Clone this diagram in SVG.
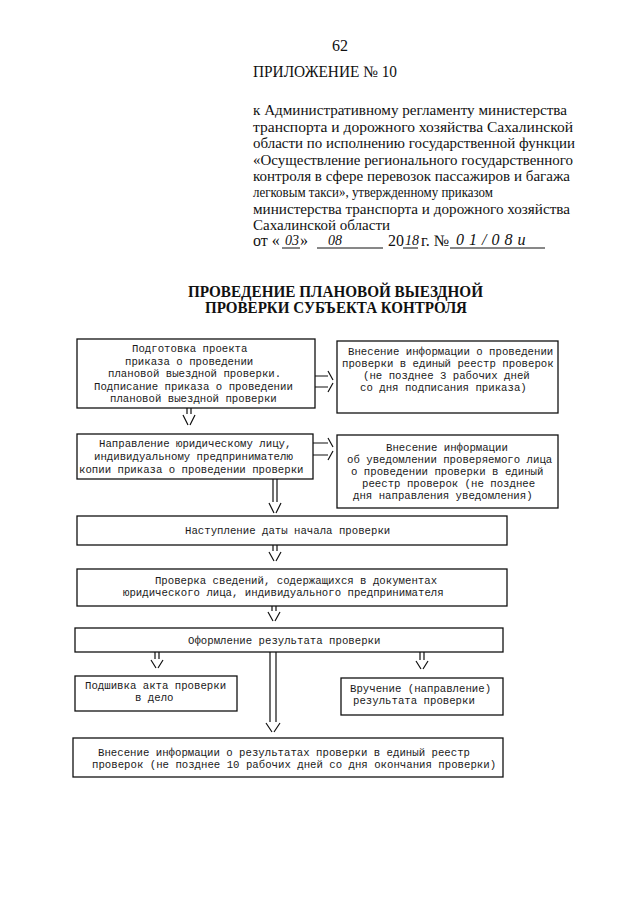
<svg xmlns="http://www.w3.org/2000/svg" width="640" height="905" viewBox="0 0 640 905">
<style>
.bg{fill:#fff}
.box{fill:#fff;stroke:#111;stroke-width:1.3}
.t{font-family:"Liberation Mono","DejaVu Sans Mono",monospace;font-size:10.7px;fill:#1a1a1a}
.s{font-family:"Liberation Serif","Times New Roman",serif;font-size:16px;fill:#111}
.p{font-family:"Liberation Serif","Times New Roman",serif;font-size:15.5px;fill:#111}
.b{font-family:"Liberation Serif","Times New Roman",serif;font-size:16px;font-weight:bold;fill:#111}
.h{font-family:"Liberation Serif","Times New Roman",serif;font-size:14px;font-style:italic;fill:#111}
.u{stroke:#111;stroke-width:1}
.c{fill:none;stroke:#111;stroke-width:1.2}
</style>
<rect class="bg" x="0" y="0" width="640" height="905"/>
<g id="header">
<text class="s" x="340" y="51" text-anchor="middle">62</text>
<text class="s" x="253" y="77" textLength="144" lengthAdjust="spacingAndGlyphs">ПРИЛОЖЕНИЕ № 10</text>
<text class="p" x="253" y="115" textLength="314" lengthAdjust="spacingAndGlyphs">к Административному регламенту министерства</text>
<text class="p" x="253" y="131.5" textLength="320" lengthAdjust="spacingAndGlyphs">транспорта и дорожного хозяйства Сахалинской</text>
<text class="p" x="253" y="148" textLength="322" lengthAdjust="spacingAndGlyphs">области по исполнению государственной функции</text>
<text class="p" x="253" y="164.5" textLength="320" lengthAdjust="spacingAndGlyphs">«Осуществление регионального государственного</text>
<text class="p" x="253" y="181" textLength="317" lengthAdjust="spacingAndGlyphs">контроля в сфере перевозок пассажиров и багажа</text>
<text class="p" x="253" y="197" textLength="240" lengthAdjust="spacingAndGlyphs">легковым такси», утвержденному приказом</text>
<text class="p" x="253" y="213.5" textLength="317" lengthAdjust="spacingAndGlyphs">министерства транспорта и дорожного хозяйства</text>
<text class="p" x="253" y="230" textLength="137" lengthAdjust="spacingAndGlyphs">Сахалинской области</text>
<text class="s" x="253" y="246">от «</text>
<text class="h" x="285" y="245">03</text>
<text class="s" x="300" y="246">»</text>
<text class="h" x="328" y="245">08</text>
<text class="s" x="388" y="246">20</text>
<text class="h" x="405" y="245">18</text>
<text class="s" x="421" y="246">г. №</text>
<text class="h" x="456" y="245" style="font-size:16px;letter-spacing:5px">01/08и</text>
<line class="u" x1="282" y1="248" x2="300" y2="248"/>
<line class="u" x1="317" y1="248" x2="383" y2="248"/>
<line class="u" x1="403" y1="248" x2="418" y2="248"/>
<line class="u" x1="450" y1="248" x2="545" y2="248"/>
</g>
<g id="title">
<text class="b" x="188" y="297" textLength="295" lengthAdjust="spacingAndGlyphs">ПРОВЕДЕНИЕ ПЛАНОВОЙ ВЫЕЗДНОЙ</text>
<text class="b" x="205" y="313" textLength="262" lengthAdjust="spacingAndGlyphs">ПРОВЕРКИ СУБЪЕКТА КОНТРОЛЯ</text>
</g>
<g id="n1">
<rect class="box" x="77" y="339" width="238" height="69"/>
<text class="t" x="132" y="352">Подготовка проекта</text>
<text class="t" x="125" y="364.5">приказа о проведении</text>
<text class="t" x="108" y="377">плановой выездной проверки.</text>
<text class="t" x="94" y="389.5">Подписание приказа о проведении</text>
<text class="t" x="110" y="402">плановой выездной проверки</text>
</g>
<g id="n2">
<rect class="box" x="337" y="341" width="221" height="72"/>
<text class="t" x="348" y="355">Внесение информации о проведении</text>
<text class="t" x="342" y="367">проверки в единый реестр проверок</text>
<text class="t" x="363" y="379">(не позднее 3 рабочих дней</text>
<text class="t" x="360" y="391">со дня подписания приказа)</text>
</g>
<g id="n3">
<rect class="box" x="77" y="434" width="236" height="45"/>
<text class="t" x="99" y="447">Направление юридическому лицу,</text>
<text class="t" x="94" y="460">индивидуальному предпринимателю</text>
<text class="t" x="79" y="473">копии приказа о проведении проверки</text>
</g>
<g id="n4">
<rect class="box" x="337" y="435" width="221" height="73"/>
<text class="t" x="386" y="451">Внесение информации</text>
<text class="t" x="347" y="463">об уведомлении проверяемого лица</text>
<text class="t" x="351" y="475">о проведении проверки в единый</text>
<text class="t" x="362" y="487">реестр проверок (не позднее</text>
<text class="t" x="353" y="499">дня направления уведомления)</text>
</g>
<g id="n5">
<rect class="box" x="77" y="516" width="430" height="29"/>
<text class="t" x="185" y="534">Наступление даты начала проверки</text>
</g>
<g id="n6">
<rect class="box" x="77" y="569" width="430" height="37"/>
<text class="t" x="296" y="584" text-anchor="middle">Проверка сведений, содержащихся в документах</text>
<text class="t" x="123" y="596">юридического лица, индивидуального предпринимателя</text>
</g>
<g id="n7">
<rect class="box" x="75" y="628" width="428" height="24"/>
<text class="t" x="188" y="644">Оформление результата проверки</text>
</g>
<g id="n8">
<rect class="box" x="75" y="676" width="162" height="35"/>
<text class="t" x="85" y="689">Подшивка акта проверки</text>
<text class="t" x="135" y="701">в дело</text>
</g>
<g id="n9">
<rect class="box" x="341" y="678" width="162" height="37"/>
<text class="t" x="350" y="692">Вручение (направление)</text>
<text class="t" x="353" y="704">результата проверки</text>
</g>
<g id="n10">
<rect class="box" x="73" y="738" width="430" height="39"/>
<text class="t" x="98" y="756">Внесение информации о результатах проверки в единый реестр</text>
<text class="t" x="92" y="768">проверок (не позднее 10 рабочих дней со дня окончания проверки)</text>
</g>
<g id="connectors">
<path class="c" d="M315,376 H328 M328,371 L333,380 M315,387 H328 M328,392 L333,383"/>
<path class="c" d="M313,443 H328 M328,438 L333,447 M313,455 H328 M328,460 L333,451"/>
<path class="c" d="M187,408 V414 M191,408 V414 M183,415 L188,425 M190,425 L195,415"/>
<path class="c" d="M273,479 V502 M277,479 V502 M269,503 L274,513 M276,513 L281,503"/>
<path class="c" d="M273,545 V551 M277,545 V551 M269,552 L274,561 M276,561 L281,552"/>
<path class="c" d="M272,606 V611 M276,606 V611 M268,612 L273,621 M275,621 L280,612"/>
<path class="c" d="M155,652 V659 M159,652 V659 M151,660 L156,668 M158,668 L163,660"/>
<path class="c" d="M420,652 V660 M424,652 V660 M416,661 L421,669 M423,669 L428,661"/>
<path class="c" d="M270,652 V722 M276,652 V722 M266,723 L272,732 M274,732 L280,723"/>
</g>
</svg>
